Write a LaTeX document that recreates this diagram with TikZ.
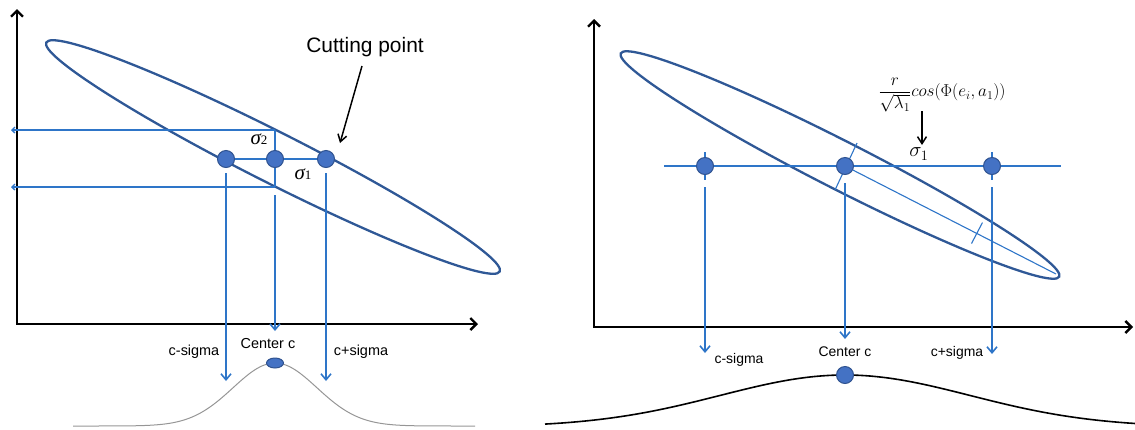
\documentclass[tikz,border=0pt]{standalone}
\usepackage{fontspec}
\setmainfont{Liberation Sans}
\newfontfamily\serifgreek{Liberation Serif}
\usetikzlibrary{arrows.meta,shapes.geometric}
\definecolor{ellblue}{RGB}{47,88,150}
\definecolor{lineblue}{RGB}{46,117,200}
\definecolor{dotfill}{RGB}{68,114,196}
\definecolor{dotdraw}{RGB}{47,82,143}
\definecolor{bellgrey}{RGB}{150,150,150}
\begin{document}
\begin{tikzpicture}[x=1bp,y=-1bp,
  axis/.style={line width=2.4bp,black,{Straight Barb[length=6bp,width=12bp]}-{Straight Barb[length=6bp,width=12bp]}},
  ell/.style={draw=ellblue,line width=2.3bp},
  dot/.style={circle,minimum size=17bp,inner sep=0pt,fill=dotfill,draw=dotdraw,line width=1bp},
  bar/.style={lineblue,line width=2.6bp},
  thinbar/.style={lineblue,line width=1.8bp},
  fine/.style={lineblue,line width=1.1bp},
  darr/.style={lineblue,line width=1.6bp,-{Straight Barb[length=6bp,width=10bp]}},
  harr/.style={lineblue,line width=1.3bp,-{Straight Barb[length=3bp,width=6bp]}},
  blk/.style={black,line width=1.5bp,-{Straight Barb[length=7bp,width=9bp]}},
  lbl/.style={inner sep=0pt,font=\fontsize{14.5}{16}\selectfont},
  lblr/.style={inner sep=0pt,font=\fontsize{14}{16}\selectfont},
]
\useasboundingbox (0,0) rectangle (1135,429);

% ================= LEFT PANEL =================
\coordinate (LO) at (17,324);
\coordinate (LYT) at (17,9);
\coordinate (LXT) at (478,324);
\draw[axis] (LYT) -- (LO) -- (LXT);

\draw[ell,rotate around={-26.8:(273,157)}] (273,157) ellipse [x radius=254, y radius=25.5];

% horizontal arrows to the y axis
\coordinate (LT) at (275,130);
\coordinate (LB) at (275,187);
\coordinate (LTa) at (11,130);
\coordinate (LBa) at (11,187);
\draw[harr] (LT) -- (LTa);
\draw[harr] (LB) -- (LBa);
\draw[thinbar] (LT) -- (LB);

\node[dot] (L1) at (226,159) {};
\node[dot] (L2) at (275,159) {};
\node[dot] (L3) at (326,159) {};
\draw[bar] (L1) -- (L2);
\draw[bar] (L2) -- (L3);

\node[inner sep=0pt] (s2) at (259,139) {\fontsize{21}{21}\selectfont\serifgreek\itshape σ\fontsize{13}{13}\selectfont\upshape 2};
\node[inner sep=0pt] (s1) at (303,174) {\fontsize{21}{21}\selectfont\serifgreek\itshape σ\fontsize{13}{13}\selectfont\upshape 1};

% down arrows
\coordinate (LD1s) at (226,173);
\coordinate (LD1e) at (226,381);
\coordinate (LD2s) at (275,195);
\coordinate (LD2e) at (275,331);
\coordinate (LD3s) at (326,173);
\coordinate (LD3e) at (326,381);
\draw[darr] (LD1s) -- (LD1e);
\draw[darr] (LD2s) -- (LD2e);
\draw[darr] (LD3s) -- (LD3e);

\node[lbl] (Lcm) at (194,352) {c-sigma};
\node[lbl] (Lcc) at (268,344) {Center c};
\node[lbl] (Lcp) at (361,352) {c+sigma};

% bell curve
\draw[bellgrey,line width=1bp,domain=73:475,samples=150,smooth]
  plot (\x,{426-63*exp(-0.5*((\x-275)/42)^2)});
\node[ellipse,minimum width=17bp,minimum height=10bp,inner sep=0pt,fill=dotfill,draw=dotdraw,line width=1bp] (LP) at (275,363) {};

% cutting point
\node[inner sep=0pt,font=\fontsize{21}{24}\selectfont] (cut) at (365,47) {Cutting point};
\coordinate (cutA) at (362,66);
\coordinate (cutB) at (340,143);
\draw[blk] (cutA) -- (cutB);

% ================= RIGHT PANEL =================
\coordinate (RO) at (594,327);
\coordinate (RYT) at (594,19);
\coordinate (RXT) at (1133,327);
\draw[axis] (RYT) -- (RO) -- (RXT);

\draw[ell,rotate around={-27:(840,165)}] (840,165) ellipse [x radius=246, y radius=24];

\coordinate (RHl) at (664,166);
\coordinate (RHr) at (1061,166);
\draw[bar] (RHl) -- (RHr);

% ticks through side dots
\coordinate (T1a) at (705,152);
\coordinate (T1b) at (705,180);
\coordinate (T3a) at (992,152);
\coordinate (T3b) at (992,180);
\draw[thinbar] (T1a) -- (T1b);
\draw[thinbar] (T3a) -- (T3b);

% minor axis and major half axis
\coordinate (Ma) at (857,143);
\coordinate (Mb) at (835,190);
\draw[fine] (Ma) -- (Mb);
\coordinate (Mend) at (1056,274);
\coordinate (Tka) at (982.5,222.5);
\coordinate (Tkb) at (971.5,243.5);
\draw[fine] (Tka) -- (Tkb);

\node[dot] (R1) at (705,166) {};
\node[dot] (R2) at (845,166) {};
\node[dot] (R3) at (992,166) {};
\draw[fine] (R2) -- (Mend);

% down arrows
\coordinate (RD1s) at (705,187);
\coordinate (RD1e) at (705,353);
\coordinate (RD2s) at (845,183);
\coordinate (RD2e) at (845,339);
\coordinate (RD3s) at (992,187);
\coordinate (RD3e) at (992,354);
\draw[darr] (RD1s) -- (RD1e);
\draw[darr] (RD2s) -- (RD2e);
\draw[darr] (RD3s) -- (RD3e);

\node[lblr] (Rcm) at (739,360) {c-sigma};
\node[lblr] (Rcc) at (845,352) {Center c};
\node[lblr] (Rcp) at (957,353) {c+sigma};

% bell curve
\draw[black,line width=1.6bp,domain=545:1135,samples=150,smooth]
  plot (\x,{427-52*exp(-0.5*((\x-845)/125)^2)});
\node[dot] (RP) at (845,375) {};

% formula
\node[inner sep=0pt,font=\fontsize{17.5}{20}\selectfont] (form) at (942,95)
  {$\displaystyle\frac{r}{\sqrt{\lambda_1}}cos(\Phi(e_i,a_1))$};
\coordinate (FA) at (922,111);
\coordinate (FB) at (922,145);
\draw[blk] (FA) -- (FB);
\node[inner sep=0pt,font=\fontsize{20}{22}\selectfont] (rs1) at (919,154) {$\sigma_1$};

\end{tikzpicture}
\end{document}
